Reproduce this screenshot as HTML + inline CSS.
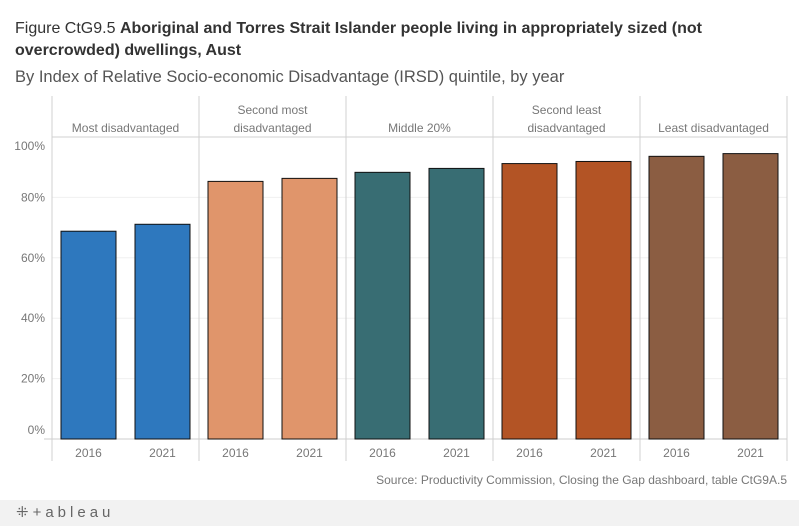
<!DOCTYPE html>
<html><head><meta charset="utf-8"><style>
body{margin:0;width:799px;height:526px;background:#fff;font-family:"Liberation Sans",sans-serif;overflow:hidden;position:relative}
.t{position:absolute;left:15px;color:#333;font-size:16px;line-height:22px}
</style></head><body>
<div class="t" style="top:18px;width:740px">Figure CtG9.5 <b style="font-weight:bold">Aboriginal and Torres Strait Islander people living in appropriately sized (not overcrowded) dwellings, Aust</b></div>
<div class="t" style="top:66px;color:#555;font-size:16.5px">By Index of Relative Socio-economic Disadvantage (IRSD) quintile, by year</div>
<svg id="c" width="799" height="526" style="position:absolute;left:0;top:0"></svg>
<div style="position:absolute;left:0;top:500px;width:799px;height:26px;background:#f2f2f2"></div>
<div style="position:absolute;left:16px;top:503px;font-size:15px;color:#666;letter-spacing:4px">⁜+ableau</div>
<script>
const groups=["Most disadvantaged","Second most|disadvantaged","Middle 20%","Second least|disadvantaged","Least disadvantaged"];
const years=["2016","2021"];
const values=[[68.8,71.1],[85.3,86.3],[88.3,89.6],[91.2,91.9],[93.6,94.5]];
const colors=["#2e78be","#e0956b","#386d73","#b35425","#8b5d42"];
const ticks=[0,20,40,60,80,100];
const svg=document.getElementById('c');const NS='http://www.w3.org/2000/svg';
const x0=52,pw=147,y0=439,ppp=3.02;
const y=v=>y0-v*ppp;
function mk(t,a,txt){const e=document.createElementNS(NS,t);for(const k in a)e.setAttribute(k,a[k]);if(txt!=null)e.textContent=txt;svg.appendChild(e);return e;}
ticks.forEach(t=>{
 if(t>0&&t<100){const g=mk('line',{x1:x0,x2:787,y1:y(t),y2:y(t),stroke:'#f0f0f0'});}
 const ly=Math.min(Math.max(y(t)+4,150),434);
 const l=mk('text',{x:45,y:ly,'text-anchor':'end','font-size':12,fill:'#777','font-family':'Liberation Sans'},t+'%');
 
});
mk('line',{x1:x0,x2:787,y1:137,y2:137,stroke:'#d0d0d0'});
mk('line',{x1:x0-8,x2:787,y1:y0,y2:y0,stroke:'#ccc'});
for(let i=0;i<=5;i++){const ln=mk('line',{x1:x0+i*pw,x2:x0+i*pw,y1:96,y2:461,stroke:'#d0d0d0'});}
groups.forEach((g,i)=>{
 const cx=x0+i*pw+pw/2;const parts=g.split('|');
 parts.forEach((p,j)=>{const h=mk('text',{x:cx,y:132-(parts.length-1-j)*18,'text-anchor':'middle','font-size':12,fill:'#777','font-family':'Liberation Sans'},p);
 });
 years.forEach((yr,k)=>{
  const bx=x0+i*pw+9+k*74, v=values[i][k];
  const r=mk('rect',{x:bx,y:y(v),width:55,height:y0-y(v),fill:colors[i],stroke:'#111','stroke-width':1});
  
  const xl=mk('text',{x:bx+27.5,y:457,'text-anchor':'middle','font-size':12,fill:'#777','font-family':'Liberation Sans'},yr);
  
 });
});
const s=mk('text',{x:787,y:484,'text-anchor':'end','font-size':12,fill:'#777','font-family':'Liberation Sans'},'Source: Productivity Commission, Closing the Gap dashboard, table CtG9A.5');

</script>
</body></html>
